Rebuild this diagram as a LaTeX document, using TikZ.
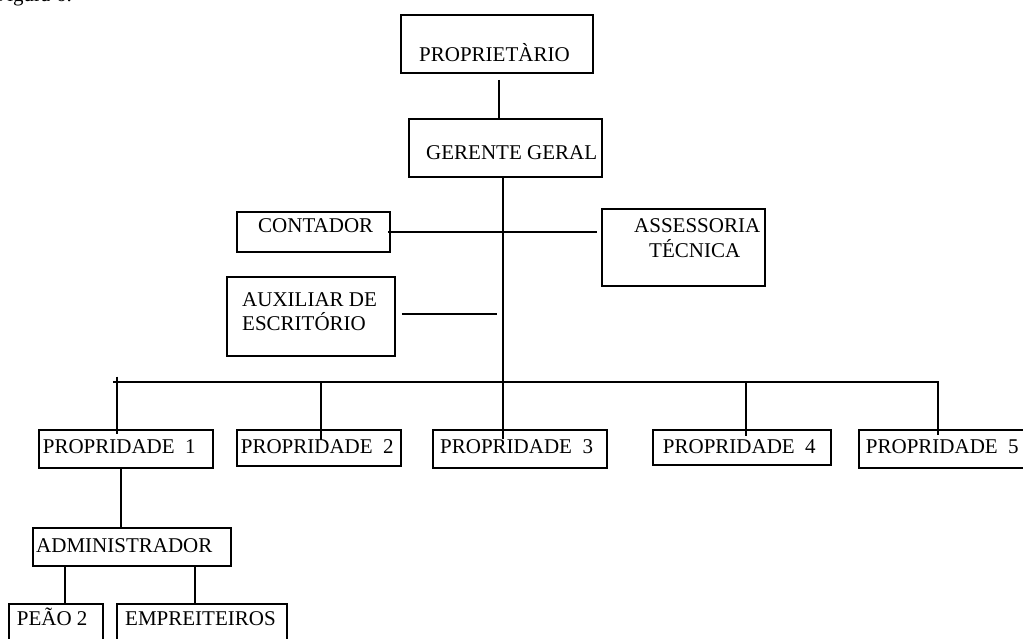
\documentclass[tikz,border=0pt]{standalone}
\usepackage{fontspec}
\setmainfont{Liberation Serif}
\usetikzlibrary{calc}
\begin{document}
\begin{tikzpicture}[x=1pt,y=-1pt,
  orgbox/.style={draw,line width=1.8pt,inner sep=0pt,minimum width=#1},
  lbl/.style={anchor=base west,inner sep=0pt,font=\fontsize{21pt}{24pt}\selectfont},
  link/.style={line width=1.8pt}]
\useasboundingbox[fill=white] (0,0) rectangle (1023,639);

% caption remnant at the top edge
\begin{scope}
  \clip (0,0) rectangle (1023,639);
  \node[lbl] (cap) at (-4.5,1.5) {Figura 6:};
\end{scope}

% boxes
\node[orgbox=192pt,minimum height=58pt] (prop) at (497,44) {};
\node[orgbox=193pt,minimum height=58pt] (ger)  at (505.5,148) {};
\node[orgbox=153pt,minimum height=40pt] (cont) at (313.5,232) {};
\node[orgbox=163pt,minimum height=77pt] (asse) at (683.5,247.5) {};
\node[orgbox=168pt,minimum height=79pt] (aux)  at (311,316.5) {};
\node[orgbox=174pt,minimum height=38pt] (p1) at (126,449) {};
\node[orgbox=164pt,minimum height=36pt] (p2) at (319,448) {};
\node[orgbox=174pt,minimum height=38pt] (p3) at (520,449) {};
\node[orgbox=178pt,minimum height=35pt] (p4) at (742,447.5) {};
\node[orgbox=176pt,minimum height=38pt] (p5) at (947,449) {};
\node[orgbox=198pt,minimum height=38pt] (adm)  at (132,547) {};
\node[orgbox=94pt,minimum height=56pt]  (peao) at (56,632) {};
\node[orgbox=170pt,minimum height=56pt] (emp)  at (202,632) {};

% labels
\node[lbl] (tprop) at (419,62) {PROPRIETÀRIO};
\node[lbl] (tger)  at (426,160) {GERENTE GERAL};
\node[lbl] (tcont) at (258,233) {CONTADOR};
\node[lbl] (tas1)  at (634,233) {ASSESSORIA};
\node[lbl] (tas2)  at (649,258) {TÉCNICA};
\node[lbl] (tau1)  at (242,306) {AUXILIAR DE};
\node[lbl] (tau2)  at (242,330) {ESCRITÓRIO};
\node[lbl] (tp1) at (42.7,453.3) {PROPRIDADE\hspace{0.5em}1};
\node[lbl] (tp2) at (240.7,453.3) {PROPRIDADE\hspace{0.5em}2};
\node[lbl] (tp3) at (440,453.3) {PROPRIDADE\hspace{0.5em}3};
\node[lbl] (tp4) at (662.7,453.3) {PROPRIDADE\hspace{0.5em}4};
\node[lbl] (tp5) at (865.7,453.3) {PROPRIDADE\hspace{0.5em}5};
\node[lbl] (tadm)  at (36,552.3) {ADMINISTRADOR};
\node[lbl] (tpeao) at (16.7,625.7) {PEÃO 2};
\node[lbl] (temp)  at (125,625.7) {EMPREITEIROS};

% connector positions
\coordinate (bus)  at (503,381.7);
\coordinate (busL) at (113,381.7);
\coordinate (busR) at (939,381.7);
\coordinate (d1) at (117,381.7);
\coordinate (d2) at (321,381.7);
\coordinate (d4) at (746,381.7);
\coordinate (d5) at (938,381.7);
\coordinate (auxEnd) at (497,314);
\coordinate (a1) at (121,0);
\coordinate (e1) at (65,0);
\coordinate (e2) at (195,0);

% connectors
\draw[link] ([xshift=2pt,yshift=-6pt]prop.south) -- ([xshift=2pt]prop.south |- ger.north);
\draw[link] (ger.south -| bus) -- (bus);
\draw[link] ([xshift=-3pt]cont.east) -- ([xshift=-4pt]cont.east -| asse.west);
\draw[link] ([xshift=6pt]aux.east |- auxEnd) -- (auxEnd);
\draw[link] (busL) -- (busR);
\draw[link] ([yshift=5pt]d1) -- ([yshift=-5pt]d1 |- p1.north);
\draw[link] (d2) -- ([yshift=-11pt]d2 |- p2.north);
\draw[link] (bus) -- ([yshift=-10pt]bus |- p3.north);
\draw[link] (d4) -- ([yshift=-7pt]d4 |- p4.north);
\draw[link] (d5) -- ([yshift=-6pt]d5 |- p5.north);
\draw[link] (p1.south -| a1) -- (adm.north -| a1);
\draw[link] (adm.south -| e1) -- (peao.north -| e1);
\draw[link] (adm.south -| e2) -- (emp.north -| e2);
\end{tikzpicture}
\end{document}
